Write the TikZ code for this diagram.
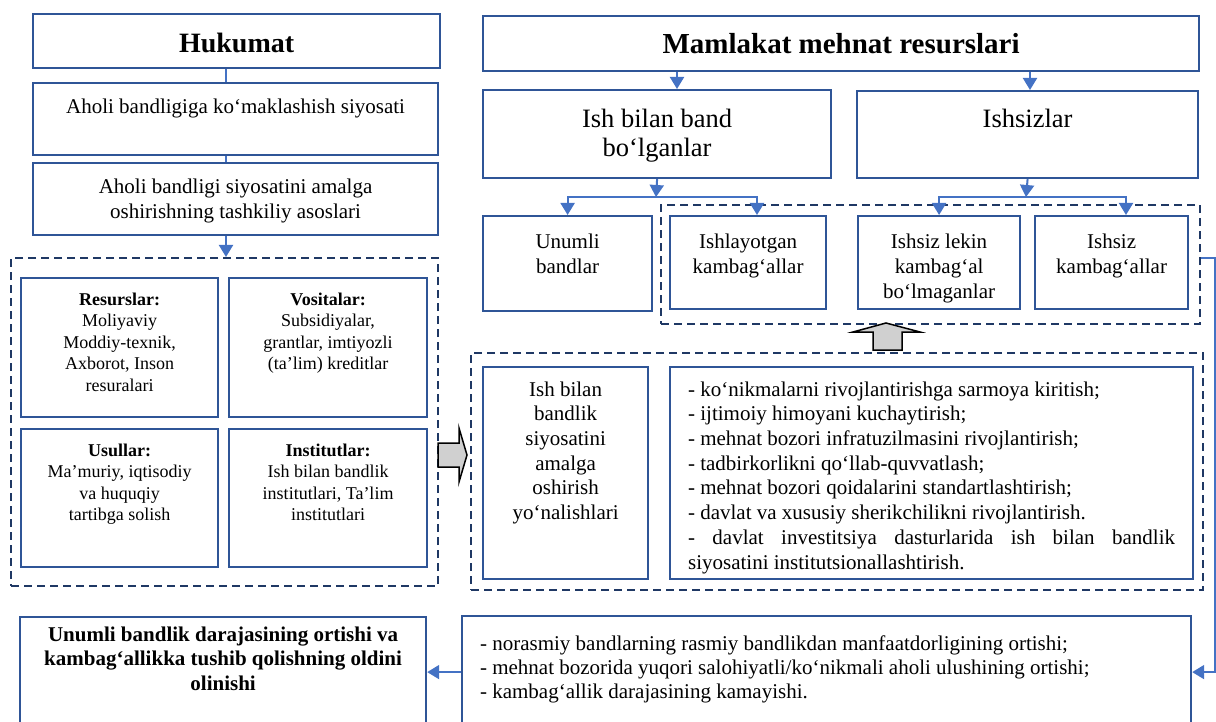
\documentclass[tikz,border=0pt]{standalone}
\usepackage{fontspec}
\setmainfont{Liberation Serif}
\usetikzlibrary{arrows.meta}
\definecolor{boxblue}{RGB}{47,85,151}
\definecolor{lineblue}{RGB}{68,114,196}
\definecolor{navy}{RGB}{31,56,100}
\definecolor{arrgrey}{RGB}{208,208,208}
% font size and line skip
\newcommand{\fs}[2]{\fontsize{#1pt}{#2pt}\selectfont}
% a fixed box: width, height, first baseline, text
\newcommand{\cell}[4]{\parbox[c][#2pt][t]{#1pt}{\centering\rule{0pt}{#3pt}#4\par}}
\begin{document}
\begin{tikzpicture}[x=1pt, y=-1pt,
  box/.style={draw=boxblue, line width=2.2pt, inner sep=0pt, anchor=north west},
  grp/.style={draw=navy, line width=2.2pt, dash pattern=on 8pt off 5pt, inner sep=0pt, anchor=north west},
  arr/.style={draw=lineblue, line width=2pt, -{Triangle[width=14pt,length=12pt]}},
  link/.style={draw=lineblue, line width=2pt},
  fat/.style={draw=black, line width=1.5pt, fill=arrgrey}]
\useasboundingbox (0,0) rectangle (1216,722);
\clip (0,0) rectangle (1216,722);

% dashed groups
\node[grp, minimum width=427pt, minimum height=328pt] (grpl) at (10,257) {};
\node[grp, minimum width=539pt, minimum height=119pt] (grpt) at (660,204) {};
\node[grp, minimum width=732pt, minimum height=237pt] (grpm) at (470,352) {};

% left column
\node[box] (huk) at (32,13) {\cell{407}{54}{38}{\fs{28}{32}\bfseries Hukumat}};
\node[box] (ah1) at (32,82) {\cell{405}{72}{30}{\fs{21}{25}Aholi bandligiga ko‘maklashish siyosati}};
\node[box] (ah2) at (32,162) {\cell{405}{72}{30}{\fs{21}{25}Aholi bandligi siyosatini amalga\\ oshirishning tashkiliy asoslari}};
\node[box] (resr) at (20,277) {\cell{197}{139}{27}{\fs{18}{21.5}\textbf{Resurslar:}\\ Moliyaviy\\ Moddiy-texnik,\\ Axborot, Inson\\ resuralari}};
\node[box] (vos) at (228,277) {\cell{198}{139}{27}{\fs{18}{21.5}\textbf{Vositalar:}\\ Subsidiyalar,\\ grantlar, imtiyozli\\ (ta’lim) kreditlar}};
\node[box] (usul) at (20,428) {\cell{197}{138}{27}{\fs{18}{21.5}\textbf{Usullar:}\\ Ma’muriy, iqtisodiy\\ va huquqiy\\ tartibga solish}};
\node[box] (inst) at (228,428) {\cell{198}{138}{27}{\fs{18}{21.5}\textbf{Institutlar:}\\ Ish bilan bandlik\\ institutlari, Ta’lim\\ institutlari}};

% right column
\node[box] (mml) at (482,15) {\cell{716}{55}{37}{\fs{29}{33}\bfseries Mamlakat mehnat resurslari}};
\node[box] (ishband) at (482,89) {\cell{348}{88}{37}{\fs{26.5}{29}Ish bilan band\\ bo‘lganlar}};
\node[box] (isz) at (856,90) {\cell{341}{87}{36}{\fs{26.5}{29}Ishsizlar}};
\node[box] (unum) at (482,215) {\cell{169}{95}{32}{\fs{21}{25}Unumli\\ bandlar}};
\node[box] (ishl) at (669,215) {\cell{156}{93}{32}{\fs{21}{25}Ishlayotgan\\ kambag‘allar}};
\node[box] (iszl) at (857,215) {\cell{162}{93}{32}{\fs{21}{25}Ishsiz lekin\\ kambag‘al\\ bo‘lmaganlar}};
\node[box] (iszk) at (1034,215) {\cell{153}{93}{32}{\fs{21}{25}Ishsiz\\ kambag‘allar}};
\node[box] (yon) at (482,366) {\cell{165}{212}{29}{\fs{21}{24.7}Ish bilan\\ bandlik\\ siyosatini\\ amalga\\ oshirish\\ yo‘nalishlari}};
\node[box] (list) at (669,366) {\cell{523}{212}{29}{\parbox[t]{487pt}{\fs{21}{24.7}\raggedright
  - ko‘nikmalarni rivojlantirishga sarmoya kiritish;\\
  - ijtimoiy himoyani kuchaytirish;\\
  - mehnat bozori infratuzilmasini rivojlantirish;\\
  - tadbirkorlikni qo‘llab-quvvatlash;\\
  - mehnat bozori qoidalarini standartlashtirish;\\
  - davlat va xususiy sherikchilikni rivojlantirish.\\
  \makebox[\linewidth][s]{- davlat investitsiya dasturlarida ish bilan bandlik}\\
  siyosatini institutsionallashtirish.}}};

% bottom row
\node[box] (outc) at (19,616) {\cell{406}{110}{24}{\fs{21}{24.5}\bfseries Unumli bandlik darajasining ortishi va\\ kambag‘allikka tushib qolishning oldini\\ olinishi}};
\node[box] (res) at (461,615) {\cell{729}{112}{34}{\parbox[t]{693pt}{\fs{21}{24}\raggedright
  - norasmiy bandlarning rasmiy bandlikdan manfaatdorligining ortishi;\\
  - mehnat bozorida yuqori salohiyatli/ko‘nikmali aholi ulushining ortishi;\\
  - kambag‘allik darajasining kamayishi.}}};

% connector points
\coordinate (hx) at (226,0);
\coordinate (mx1) at (677,0);
\coordinate (mx2) at (1030,0);
\coordinate (s1) at (656,197);
\coordinate (s1r) at (757,197);
\coordinate (s2) at (1026,197);
\coordinate (s2r) at (1126,197);
\coordinate (ry) at (0,258);

% connectors
\draw[link] (huk.south -| hx) -- (ah1.north -| hx);
\draw[link] (ah1.south -| hx) -- (ah2.north -| hx);
\draw[arr] (ah2.south -| hx) -- (grpl.north -| hx);
\draw[arr] (mml.south -| mx1) -- (ishband.north -| mx1);
\draw[arr] (mml.south -| mx2) -- (isz.north -| mx2);
\draw[arr] (ishband.south) -- (s1);
\draw[arr] (s1) -| (unum.north);
\draw[arr] (s1) -| (ishl.north -| s1r);
\draw[arr] (isz.south) -- (s2);
\draw[arr] (s2) -| (iszl.north);
\draw[arr] (s2) -| (iszk.north -| s2r);
\draw[arr] (grpt.east |- ry) -- ++(14,0) |- (res.east);
\draw[arr] (res.west) -- (outc.east);

% grey block arrows
\draw[fat] (438,443) -- (459,443) -- (459,428) -- (467,455) -- (459,482) -- (459,467) -- (438,467) -- cycle;
\draw[fat] (873,350) -- (873,332) -- (853,332) -- (886,323) -- (920,332) -- (902,332) -- (902,350) -- cycle;
\end{tikzpicture}
\end{document}
